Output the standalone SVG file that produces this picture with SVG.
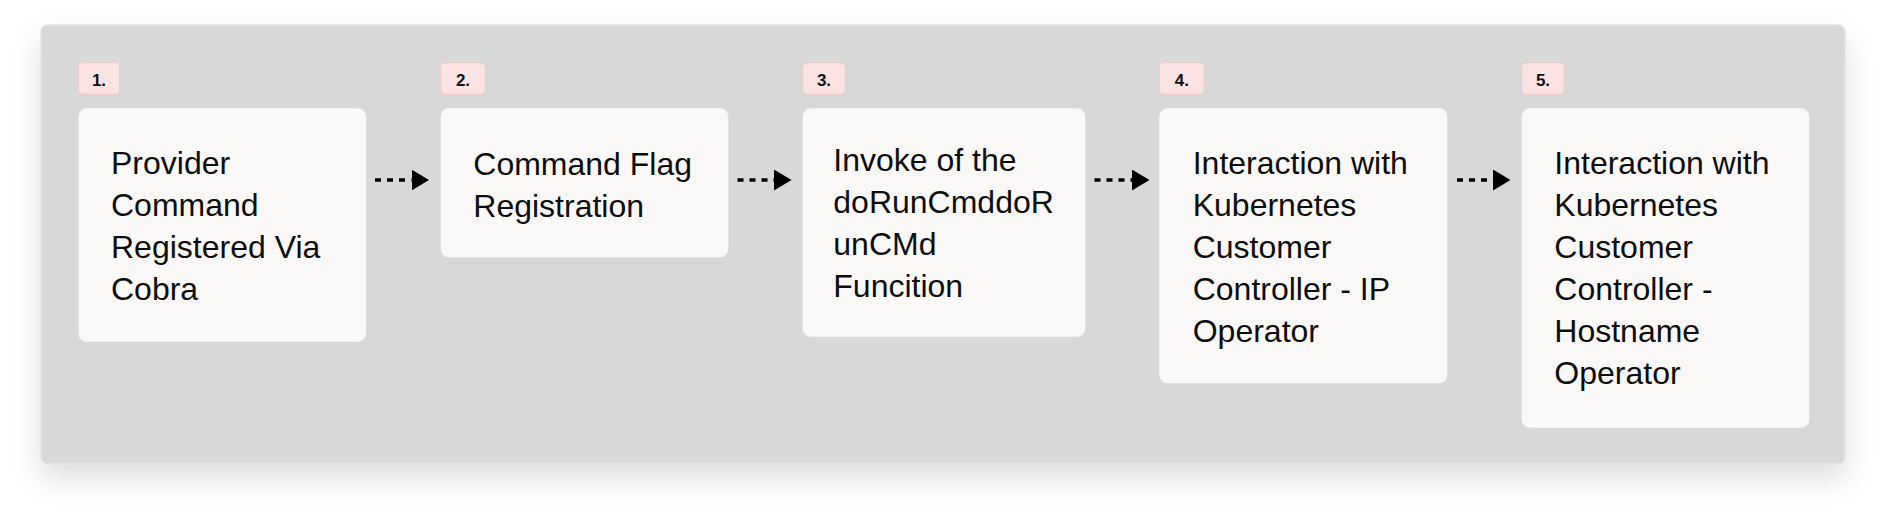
<svg xmlns="http://www.w3.org/2000/svg" width="1886" height="520" viewBox="0 0 1886 520">
  <defs>
    <filter id="shadow" x="-5%" y="-20%" width="110%" height="150%">
      <feDropShadow dx="0" dy="14" stdDeviation="14" flood-color="#000" flood-opacity="0.13"/>
    </filter>
    <marker id="arrow" viewBox="0 0 18 21" refX="0" refY="10.5" markerWidth="18" markerHeight="21" markerUnits="userSpaceOnUse" orient="auto">
      <path d="M0,0 L17.5,10.5 L0,21 Z" fill="#000"/>
    </marker>
  </defs>
  <style>
    .container { fill: #d8d8d8; stroke: #e3e3e6; stroke-width: 1.5; }
    .node { fill: #f9f8f6; }
    .badge { fill: #fbe3e3; stroke: #efcbcb; stroke-width: 1; }
    .badge-text { font-family: "Liberation Sans", Arial, sans-serif; font-size: 17px; font-weight: bold; fill: #111; text-anchor: middle; }
    .label { font-family: "Liberation Sans", Arial, sans-serif; font-size: 32px; fill: #0d0d0d; }
    .conn { stroke: #000; stroke-width: 3.3; stroke-dasharray: 6 6; fill: none; }
  </style>

  <rect width="1886" height="520" fill="#ffffff"/>
  <rect class="container" x="41" y="25" width="1804" height="439" rx="7" filter="url(#shadow)"/>

  <g id="connectors">
    <line class="conn" x1="375" y1="180" x2="411.5" y2="180" marker-end="url(#arrow)"/>
    <line class="conn" x1="737.5" y1="180" x2="774" y2="180" marker-end="url(#arrow)"/>
    <line class="conn" x1="1094.5" y1="180" x2="1132" y2="180" marker-end="url(#arrow)"/>
    <line class="conn" x1="1457" y1="180" x2="1493" y2="180" marker-end="url(#arrow)"/>
  </g>

  <g id="node1">
    <rect class="badge" x="78.5" y="62.8" width="41" height="31.5" rx="4"/>
    <text class="badge-text" x="99" y="85.5">1.</text>
    <rect class="node" x="78.5" y="108.3" width="287.5" height="233.4" rx="8"/>
    <text class="label">
      <tspan x="111" y="174">Provider</tspan>
      <tspan x="111" y="216">Command</tspan>
      <tspan x="111" y="258">Registered Via</tspan>
      <tspan x="111" y="300">Cobra</tspan>
    </text>
  </g>

  <g id="node2">
    <rect class="badge" x="440.7" y="62.8" width="44.6" height="31.5" rx="4"/>
    <text class="badge-text" x="463" y="85.5">2.</text>
    <rect class="node" x="440.7" y="108.3" width="287.6" height="149" rx="8"/>
    <text class="label">
      <tspan x="473.3" y="175">Command Flag</tspan>
      <tspan x="473.3" y="217">Registration</tspan>
    </text>
  </g>

  <g id="node3">
    <rect class="badge" x="802.7" y="62.8" width="42.6" height="31.5" rx="4"/>
    <text class="badge-text" x="824" y="85.5">3.</text>
    <rect class="node" x="802.7" y="108.3" width="282.6" height="228.4" rx="8"/>
    <text class="label">
      <tspan x="833.3" y="170.5">Invoke of the</tspan>
      <tspan x="833.3" y="212.5">doRunCmddoR</tspan>
      <tspan x="833.3" y="254.5">unCMd</tspan>
      <tspan x="833.3" y="296.5">Funcition</tspan>
    </text>
  </g>

  <g id="node4">
    <rect class="badge" x="1159.3" y="62.8" width="45" height="31.5" rx="4"/>
    <text class="badge-text" x="1181.8" y="85.5">4.</text>
    <rect class="node" x="1159.3" y="108.3" width="288" height="275" rx="8"/>
    <text class="label">
      <tspan x="1192.7" y="174">Interaction with</tspan>
      <tspan x="1192.7" y="216">Kubernetes</tspan>
      <tspan x="1192.7" y="258">Customer</tspan>
      <tspan x="1192.7" y="300">Controller - IP</tspan>
      <tspan x="1192.7" y="342">Operator</tspan>
    </text>
  </g>

  <g id="node5">
    <rect class="badge" x="1521.7" y="62.8" width="42.6" height="31.5" rx="4"/>
    <text class="badge-text" x="1543" y="85.5">5.</text>
    <rect class="node" x="1521.7" y="108.3" width="287.6" height="319.4" rx="8"/>
    <text class="label">
      <tspan x="1554.3" y="174">Interaction with</tspan>
      <tspan x="1554.3" y="216">Kubernetes</tspan>
      <tspan x="1554.3" y="258">Customer</tspan>
      <tspan x="1554.3" y="300">Controller -</tspan>
      <tspan x="1554.3" y="342">Hostname</tspan>
      <tspan x="1554.3" y="384">Operator</tspan>
    </text>
  </g>
</svg>
